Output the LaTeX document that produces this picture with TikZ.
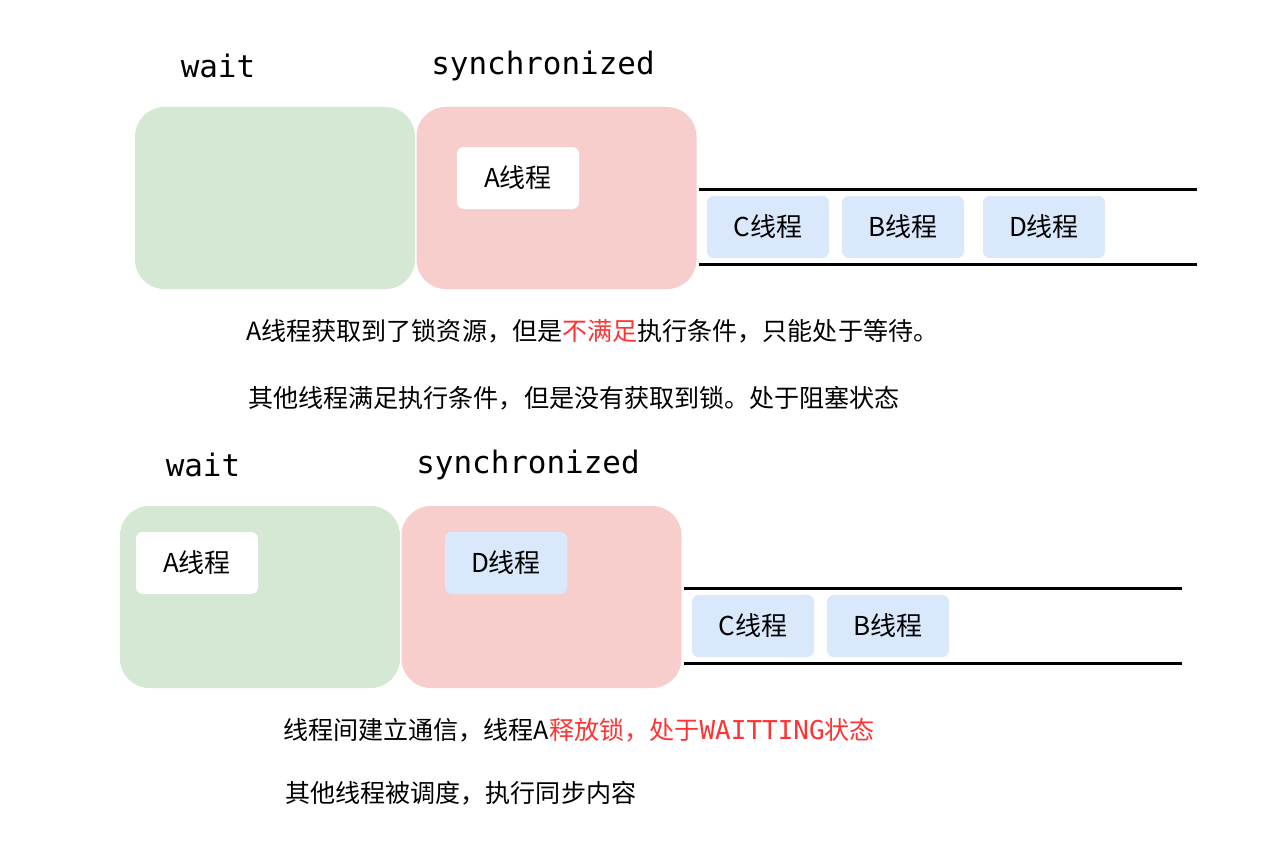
\documentclass[tikz,border=0pt]{standalone}
\usepackage{fontspec}
\setmainfont{Noto Sans CJK SC}
\newfontfamily\monof{DejaVu Sans Mono}
\definecolor{gfill}{HTML}{D5E8D4}
\definecolor{pfill}{HTML}{F8CECC}
\definecolor{bfill}{HTML}{DAE8FC}
\definecolor{redtxt}{HTML}{FF3333}
\tikzset{
  bigbox/.style={rounded corners=22pt, minimum width=210pt, minimum height=136.5pt, inner sep=0pt},
  thbox/.style={rounded corners=5pt, minimum width=91.5pt, minimum height=46.5pt, inner sep=0pt, font=\fontsize{19.5}{23}\selectfont},
  whitebox/.style={thbox, fill=white},
  bluebox/.style={thbox, fill=bfill},
  monolabel/.style={font=\monof\fontsize{23.2}{27}\selectfont, inner sep=0pt},
  desc/.style={anchor=west, inner sep=0pt, font=\fontsize{18.8}{23}\selectfont},
  rail/.style={line width=2.25pt}
}
\begin{document}
\begin{tikzpicture}[x=0.75pt, y=-0.75pt]
\useasboundingbox (0,0) rectangle (1278,842);
% ---------- top group ----------
\node[monolabel] (waitA) at (218,66) {wait};
\node[monolabel] (syncA) at (543,66) {synchronized};
\node[bigbox, fill=gfill] (greenA) at (275,198) {};
\node[bigbox, fill=pfill] (pinkA) at (556.5,198) {};
\node[whitebox] (aA) at (518,178) {A线程};
\coordinate (rtA1) at (699,189); \coordinate (rtA2) at (1197,189);
\coordinate (rbA1) at (699,264); \coordinate (rbA2) at (1197,264);
\draw[rail] (rtA1) -- (rtA2);
\draw[rail] (rbA1) -- (rbA2);
\node[bluebox] (cA) at (768,227) {C线程};
\node[bluebox] (bA) at (903,227) {B线程};
\node[bluebox] (dA) at (1044,227) {D线程};
\node[desc] (t1) at (246,331) {A线程获取到了锁资源，但是\textcolor{redtxt}{不满足}执行条件，只能处于等待。};
\node[desc] (t2) at (248,398) {其他线程满足执行条件，但是没有获取到锁。处于阻塞状态};
% ---------- bottom group ----------
\node[monolabel] (waitB) at (203,465) {wait};
\node[monolabel] (syncB) at (528,465) {synchronized};
\node[bigbox, fill=gfill] (greenB) at (260,597) {};
\node[bigbox, fill=pfill] (pinkB) at (541.5,597) {};
\node[whitebox] (aB) at (197,563) {A线程};
\node[bluebox] (dB) at (506,563) {D线程};
\coordinate (rtB1) at (684,588); \coordinate (rtB2) at (1182,588);
\coordinate (rbB1) at (684,663); \coordinate (rbB2) at (1182,663);
\draw[rail] (rtB1) -- (rtB2);
\draw[rail] (rbB1) -- (rbB2);
\node[bluebox] (cB) at (753,626) {C线程};
\node[bluebox] (bB) at (888,626) {B线程};
\node[desc] (t3) at (283,730) {线程间建立通信，线程A\textcolor{redtxt}{释放锁，处于{\monof\fontsize{19.5}{23}\selectfont WAITTING}状态}};
\node[desc] (t4) at (285,793) {其他线程被调度，执行同步内容};
\end{tikzpicture}
\end{document}
